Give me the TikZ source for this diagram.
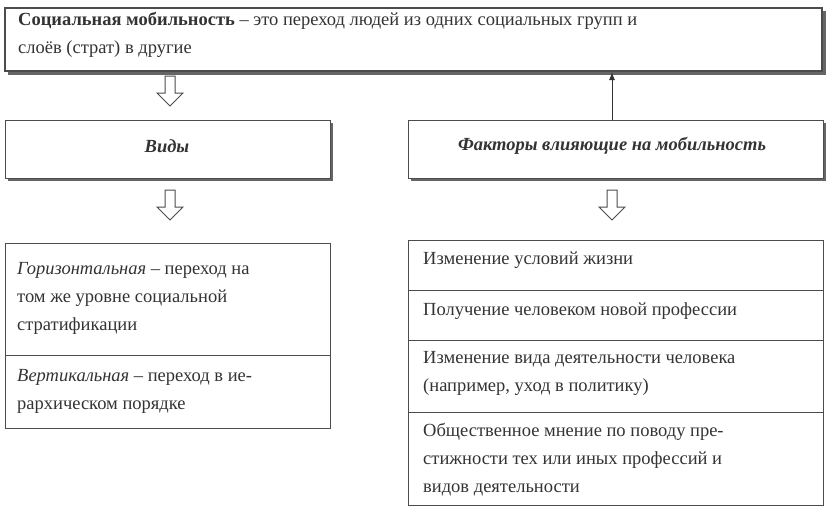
\documentclass[tikz,border=0pt]{standalone}
\usepackage{fontspec}
\usetikzlibrary{arrows.meta}
\setmainfont{Liberation Serif}
\begin{document}
\begin{tikzpicture}[x=1pt,y=-1pt,
 txt/.style={font=\fontsize{18.5}{28}\selectfont,text=black!80,align=left,anchor=north west,inner sep=0pt},
 hbox/.style={draw=black!70,line width=1pt}]
\useasboundingbox (0,0) rectangle (836,512);
% top box
\fill[black!60] (8,11) rectangle (826,75);
\draw[hbox,fill=white,line width=1.4pt] (5,8) rectangle (822,71);
\node[txt] (t) at (18,12) {\textbf{Социальная мобильность} – это переход людей из одних социальных групп и\\слоёв (страт) в другие};
\coordinate (tA) at (170,72);
\coordinate (tB) at (612,72);
% hollow arrows
\newcommand\harrow[2]{\draw[black!70,line width=1pt,fill=white] (#1-5,#2) -- (#1+5,#2) -- (#1+5,#2+17) -- (#1+13,#2+17) -- (#1,#2+30) -- (#1-13,#2+17) -- (#1-5,#2+17) -- cycle;}
\harrow{170}{76}
\harrow{170}{190}
\harrow{612}{190}
% Виды box
\fill[black!60] (8,123) rectangle (333,181);
\draw[hbox,fill=white] (5,120) rectangle (330,178);
\node[txt,font=\fontsize{18.5}{28}\selectfont\bfseries\itshape,anchor=center] (v) at (167,146) {Виды};
% factors box
\fill[black!60] (411,123) rectangle (826,181);
\draw[hbox,fill=white] (408,120) rectangle (823,178);
\node[txt,font=\fontsize{18.5}{28}\selectfont\bfseries\itshape,anchor=center] (f) at (612,146) {Факторы влияющие на мобильность};
\coordinate (fT) at (612,120);
\draw[black!80,line width=1pt,-{Latex[length=8pt,width=6pt]}] (fT) -- (tB);
% left list
\draw[hbox] (5,243) rectangle (330,428);
\draw[hbox] (5,355) -- (330,355);
\node[txt] (l1) at (17,262) {\textit{Горизонтальная} – переход на\\том же уровне социальной\\стратификации};
\node[txt] (l2) at (17,369) {\textit{Вертикальная} – переход в ие-\\рархическом порядке};
% right list
\draw[hbox] (408,240) rectangle (823,505);
\draw[hbox] (408,290) -- (823,290);
\draw[hbox] (408,340) -- (823,340);
\draw[hbox] (408,412) -- (823,412);
\node[txt] (r1) at (423,252) {Изменение условий жизни};
\node[txt] (r2) at (423,302) {Получение человеком новой профессии};
\node[txt] (r3) at (423,351) {Изменение вида деятельности человека\\(например, уход в политику)};
\node[txt] (r4) at (423,423) {Общественное мнение по поводу пре-\\стижности тех или иных профессий и\\видов деятельности};
\end{tikzpicture}
\end{document}
